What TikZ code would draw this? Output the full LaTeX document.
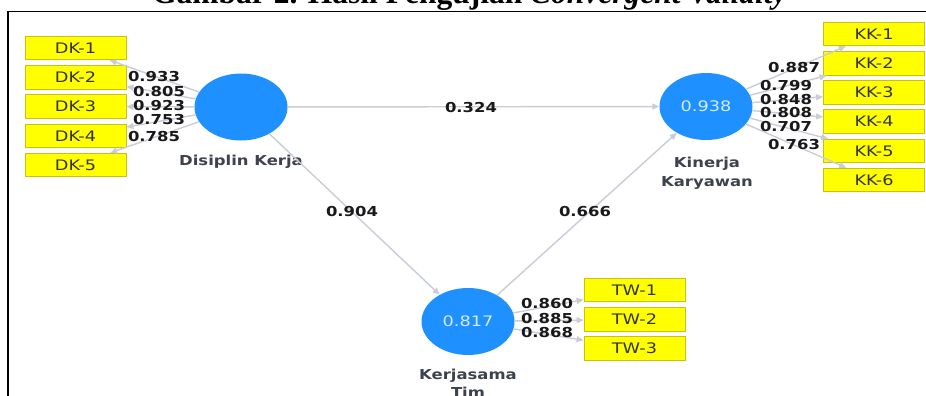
\documentclass[tikz,border=0pt]{standalone}
\usepackage{fontspec}
\usetikzlibrary{shapes.geometric,arrows.meta}
\newfontfamily\titlefont{Liberation Serif}
\newfontfamily\itemfont[FakeStretch=1.22]{DejaVu Sans}
\newfontfamily\valfont[FakeStretch=1.2]{DejaVu Sans Bold}
\definecolor{lvblue}{RGB}{30,144,255}
\definecolor{lvtext}{RGB}{214,234,255}
\definecolor{itemfill}{RGB}{255,255,0}
\definecolor{itemline}{RGB}{205,190,20}
\definecolor{linkgrey}{RGB}{200,205,216}
\definecolor{namegrey}{RGB}{60,66,78}
\tikzset{
  latent/.style={ellipse, fill=lvblue, draw=none, minimum width=93pt,
    minimum height=67pt, inner sep=0pt, text=lvtext,
    font=\itemfont\fontsize{14.5}{16}\selectfont},
  indicator/.style={rectangle, fill=itemfill, draw=itemline, line width=0.8pt,
    minimum width=101pt, minimum height=23.5pt, inner sep=0pt,
    text=black!80, font=\itemfont\fontsize{14.5}{16}\selectfont},
  link/.style={draw=linkgrey, line width=1.4pt,
    -{Triangle[length=7pt,width=6pt]}},
  coef/.style={inner sep=0pt, text=black!90,
    font=\valfont\fontsize{13.7}{14}\selectfont},
  lvname/.style={inner sep=0pt, anchor=base, text=namegrey,
    font=\valfont\fontsize{13.7}{14}\selectfont},
}
\begin{document}
\begin{tikzpicture}[x=1pt,y=-1pt]
\clip (0,0) rectangle (926,396);
\fill[white] (0,0) rectangle (926,396);

% caption line above the frame
\node[anchor=base west, inner sep=0pt, font=\titlefont\fontsize{31.5}{36}\selectfont]
  (caption) at (152,3.5) {\bfseries Gambar 2. Hasil Pengujian \itshape Convergent Validity};

% frame
\draw[line width=1.6pt] (926,11.5) -- (8,11.5) -- (8,400);

% latent variables
\node[latent] (dk) at (241,107) {};
\node[latent] (kk) at (706,106.5) {0.938};
\node[latent] (kt) at (468,321.5) {0.817};

\node[lvname] (dkname) at (241,165) {Disiplin Kerja};
\node[lvname] (kkname1) at (707,167) {Kinerja};
\node[lvname] (kkname2) at (707,186) {Karyawan};
\node[lvname] (ktname1) at (468,379) {Kerjasama};
\node[lvname] (ktname2) at (468,397) {Tim};

% indicators
\node[indicator] (dk1) at (75.5,48) {DK-1};
\node[indicator] (dk2) at (75.5,77.5) {DK-2};
\node[indicator] (dk3) at (75.5,106.5) {DK-3};
\node[indicator] (dk4) at (75.5,136) {DK-4};
\node[indicator] (dk5) at (75.5,165) {DK-5};

\node[indicator] (kk1) at (874,34) {KK-1};
\node[indicator] (kk2) at (874,63.5) {KK-2};
\node[indicator] (kk3) at (874,92.5) {KK-3};
\node[indicator] (kk4) at (874,121.5) {KK-4};
\node[indicator] (kk5) at (874,151) {KK-5};
\node[indicator] (kk6) at (874,180) {KK-6};

\node[indicator] (tw1) at (634.5,290) {TW-1};
\node[indicator] (tw2) at (634.5,319.5) {TW-2};
\node[indicator] (tw3) at (634.5,348.5) {TW-3};

% outer model links
\foreach \i in {1,...,5} \path[link] (dk) -- (dk\i);
\foreach \i in {1,...,6} \path[link] (kk) -- (kk\i);
\foreach \i in {1,2,3} \path[link] (kt) -- (tw\i);

% inner model links
\path[link] (dk) -- (kk);
\path[link] (dk) -- (kt);
\path[link] (kt) -- (kk);

% loadings
\node[coef] (l1) at (154,77) {0.933};
\node[coef] (l2) at (159,92) {0.805};
\node[coef] (l3) at (159,106) {0.923};
\node[coef] (l4) at (159,120) {0.753};
\node[coef] (l5) at (154,137) {0.785};

\node[coef] (m1) at (794,68) {0.887};
\node[coef] (m2) at (786,86) {0.799};
\node[coef] (m3) at (786,99.5) {0.848};
\node[coef] (m4) at (786,113) {0.808};
\node[coef] (m5) at (786,127) {0.707};
\node[coef] (m6) at (794,145) {0.763};

\node[coef] (n1) at (547,304) {0.860};
\node[coef] (n2) at (547,319) {0.885};
\node[coef] (n3) at (547,333) {0.868};

% path coefficients
\node[coef] (p1) at (471,108) {0.324};
\node[coef] (p2) at (352,212) {0.904};
\node[coef] (p3) at (585,212) {0.666};
\end{tikzpicture}
\end{document}
